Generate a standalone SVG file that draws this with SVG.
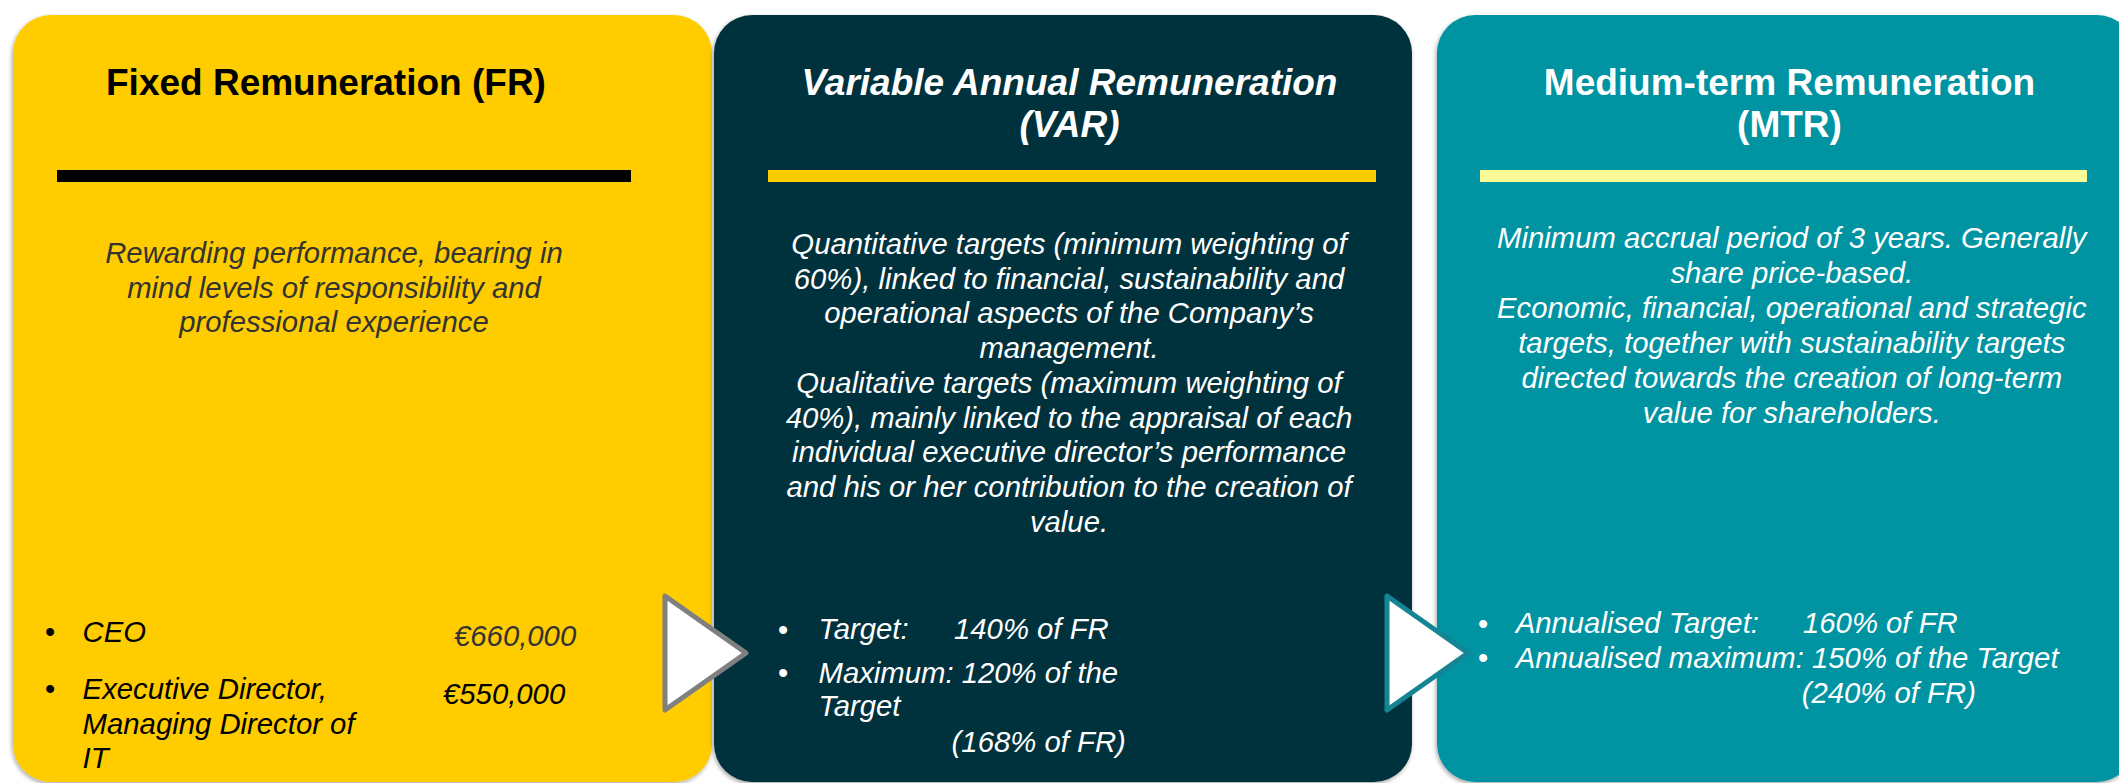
<svg xmlns="http://www.w3.org/2000/svg" width="2119" height="783" viewBox="0 0 2119 783">
<defs>
<filter id="sh" x="-5%" y="-5%" width="110%" height="110%">
<feDropShadow dx="-1" dy="2" stdDeviation="2" flood-color="#000" flood-opacity="0.35"/>
</filter>
<style>
text{font-family:"Liberation Sans",Arial,sans-serif}
.title{font-size:37px;font-weight:bold;text-anchor:middle}
.body{font-size:29.3px;font-style:italic;text-anchor:middle}
.bul{font-size:29.3px;font-style:italic}
.dot{font-size:29.3px}
.w{fill:#FFFFFF}
.k{fill:#000000}
.g{fill:#333333}
</style>
</defs>
<rect width="2119" height="783" fill="#FFFFFF"/>

<g id="node-fr">
<rect x="13" y="15" width="699" height="767" rx="38" ry="38" fill="#FFCC00" filter="url(#sh)"/>
<text class="title k" x="106" y="95" style="text-anchor:start">Fixed Remuneration (FR)</text>
<rect x="57" y="170" width="574" height="12" fill="#000000"/>
<text class="body g" x="334" y="263">Rewarding performance, bearing in</text>
<text class="body g" x="334" y="297.5">mind levels of responsibility and</text>
<text class="body g" x="334" y="332">professional experience</text>
<text class="dot k" x="45" y="642">•</text>
<text class="bul k" x="82.6" y="642">CEO</text>
<text class="bul g" x="454" y="646">€660,000</text>
<text class="dot k" x="45" y="699">•</text>
<text class="bul k" x="82.6" y="699">Executive Director,</text>
<text class="bul k" x="82.6" y="734">Managing Director of</text>
<text class="bul k" x="82.6" y="768">IT</text>
<text class="bul k" x="443" y="704">€550,000</text>
</g>

<g id="node-var">
<rect x="714" y="15" width="698" height="767" rx="38" ry="38" fill="#01323C" filter="url(#sh)"/>
<text class="title w" x="1069.5" y="95" font-style="italic">Variable Annual Remuneration</text>
<text class="title w" x="1069.5" y="137" font-style="italic">(VAR)</text>
<rect x="768" y="170" width="608" height="12" fill="#FFCC00"/>
<text class="body w" x="1069" y="254">Quantitative targets (minimum weighting of</text>
<text class="body w" x="1069" y="288.7">60%), linked to financial, sustainability and</text>
<text class="body w" x="1069" y="323.4">operational aspects of the Company’s</text>
<text class="body w" x="1069" y="358.1">management.</text>
<text class="body w" x="1069" y="392.8">Qualitative targets (maximum weighting of</text>
<text class="body w" x="1069" y="427.5">40%), mainly linked to the appraisal of each</text>
<text class="body w" x="1069" y="462.2">individual executive director’s performance</text>
<text class="body w" x="1069" y="496.9">and his or her contribution to the creation of</text>
<text class="body w" x="1069" y="531.6">value.</text>
<text class="dot w" x="778" y="640">•</text>
<text class="bul w" x="818.5" y="639">Target:</text>
<text class="bul w" x="954" y="639">140% of FR</text>
<text class="dot w" x="778" y="683">•</text>
<text class="bul w" x="818.5" y="683">Maximum: 120% of the</text>
<text class="bul w" x="818.5" y="716">Target</text>
<text class="bul w" x="951.6" y="752">(168% of FR)</text>
</g>

<g id="node-mtr">
<rect x="1437" y="15" width="698" height="767" rx="38" ry="38" fill="#0093A2" filter="url(#sh)"/>
<text class="title w" x="1789.5" y="95">Medium-term Remuneration</text>
<text class="title w" x="1789.5" y="137">(MTR)</text>
<rect x="1480" y="170" width="607" height="12" fill="#FAFA96"/>
<text class="body w" x="1791.8" y="248">Minimum accrual period of 3 years. Generally</text>
<text class="body w" x="1791.8" y="283">share price-based.</text>
<text class="body w" x="1791.8" y="318">Economic, financial, operational and strategic</text>
<text class="body w" x="1791.8" y="353">targets, together with sustainability targets</text>
<text class="body w" x="1791.8" y="388">directed towards the creation of long-term</text>
<text class="body w" x="1791.8" y="423">value for shareholders.</text>
<text class="dot w" x="1478" y="634">•</text>
<text class="bul w" x="1515.7" y="633">Annualised Target:</text>
<text class="bul w" x="1803" y="633">160% of FR</text>
<text class="dot w" x="1478" y="668">•</text>
<text class="bul w" x="1515.7" y="668">Annualised maximum: 150% of the Target</text>
<text class="bul w" x="1801.7" y="703">(240% of FR)</text>
</g>

<g id="connectors">
<polygon points="665,596 746,653 665,710" fill="#FFFFFF" stroke="#808080" stroke-width="5" stroke-linejoin="round"/>
<polygon points="1387,596 1468,653 1387,710" fill="#FFFFFF" stroke="#158494" stroke-width="5" stroke-linejoin="round"/>
</g>
</svg>
